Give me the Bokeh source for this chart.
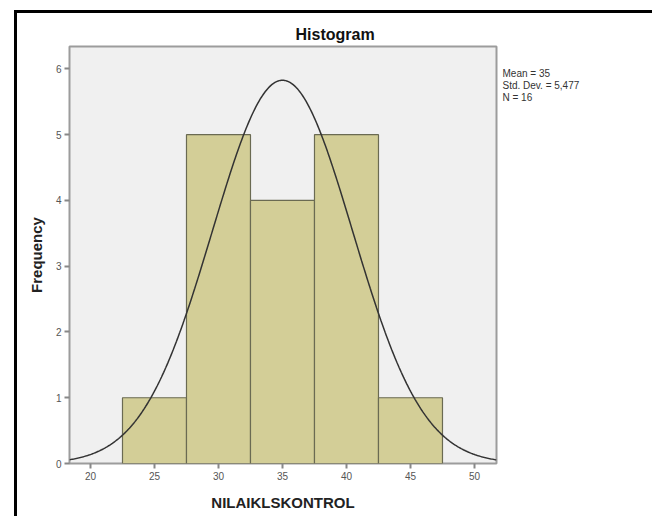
import numpy as np
from bokeh.plotting import figure
from bokeh.models import Range1d, FixedTicker, LinearAxis
from bokeh.embed import file_html
from bokeh.resources import INLINE

# ---- data ----
bin_left = [22.5, 27.5, 32.5, 37.5, 42.5]
bin_right = [27.5, 32.5, 37.5, 42.5, 47.5]
counts = [1, 5, 4, 5, 1]
mean_val = 35.0
std_dev = 5.477
n_obs = 16
bin_width = 5.0
x_ticks = [20, 25, 30, 35, 40, 45, 50]
y_ticks = [0, 1, 2, 3, 4, 5, 6]
stats_lines = ["Mean = 35", "Std. Dev. = 5,477", "N = 16"]

X_MIN, X_MAX = 18.36, 51.72
Y_MIN, Y_MAX = 0.0, 6.34

font = "Liberation Sans"
W, H = 638, 506
FRAME_H = H - 33 - 56
p = figure(width=W, height=H, output_backend="svg", toolbar_location=None,
           x_range=Range1d(X_MIN, X_MAX), y_range=Range1d(Y_MIN, Y_MAX),
           min_border_left=52, min_border_right=159, min_border_top=33, min_border_bottom=56)
p.styles = {"margin-left": "14px", "margin-top": "10px",
            "border-top": "3px solid black", "border-left": "3px solid black"}

p.title.text = "Histogram"
p.title.align = "left"
p.title.offset = 226
p.title.standoff = 7
p.title.text_font = font
p.title.text_font_style = "bold"
p.title.text_font_size = "16px"
p.title.text_color = "#111111"

p.background_fill_color = "#F0F0F0"
p.border_fill_color = "white"
p.outline_line_color = "#9c9c9c"
p.outline_line_width = 2
p.grid.visible = False

p.quad(left=bin_left, right=bin_right, bottom=0, top=counts,
       fill_color="#D3CE97", line_color="#6a6a52", line_width=1.2)

xs = np.linspace(X_MIN, X_MAX, 400)
ys = n_obs * bin_width * np.exp(-0.5 * ((xs - mean_val) / std_dev) ** 2) / (std_dev * np.sqrt(2 * np.pi))
p.line(xs, ys, line_color="#333333", line_width=1.5)

for ax in (p.xaxis[0], p.yaxis[0]):
    ax.axis_line_color = None
    ax.major_tick_line_color = "#888888"
    ax.major_tick_line_width = 2
    ax.major_tick_out = 5
    ax.major_tick_in = 0
    ax.minor_tick_line_color = None
    ax.major_label_text_font = font
    ax.major_label_text_font_size = "10px"
    ax.major_label_text_color = "#555555"
    ax.axis_label_text_font = font
    ax.axis_label_text_font_style = "bold"
    ax.axis_label_text_color = "#222222"
    ax.axis_label_text_font_size = "15px"

p.xaxis.ticker = FixedTicker(ticks=x_ticks)
p.yaxis.ticker = FixedTicker(ticks=y_ticks)
p.xaxis.axis_label = "NILAIKLSKONTROL"
p.xaxis.major_label_standoff = 3
p.xaxis.axis_label_standoff = 11
p.yaxis.axis_label = "Frequency"
p.yaxis.major_label_standoff = 3
p.yaxis.axis_label_standoff = 8

# statistics text block to the right of the frame (pixel-scaled helper axis)
p.extra_y_ranges = {"stats": Range1d(0, FRAME_H)}
stat_pos = [FRAME_H - 27 - 12 * i for i in range(len(stats_lines))]
stats_axis = LinearAxis(y_range_name="stats", ticker=FixedTicker(ticks=stat_pos),
                        major_label_overrides={pos: s for pos, s in zip(stat_pos, stats_lines)},
                        axis_line_color=None, major_tick_line_color=None, minor_tick_line_color=None,
                        major_tick_out=0, major_tick_in=0, major_label_standoff=6,
                        major_label_text_font=font, major_label_text_font_size="10px",
                        major_label_text_color="#333333")
p.add_layout(stats_axis, "right")

open("out.html", "w").write(file_html(p, INLINE))
